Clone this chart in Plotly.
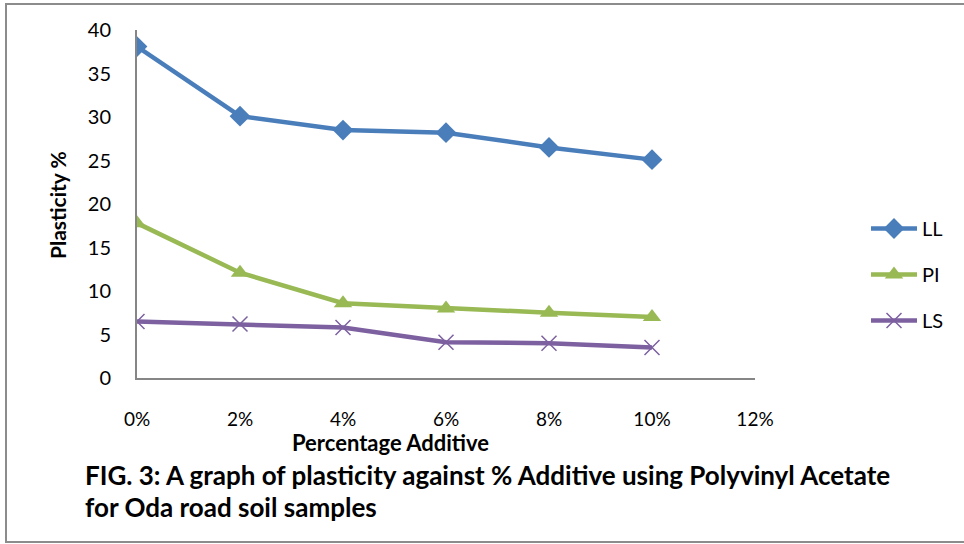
import plotly.graph_objects as go

additive = [0.00, 0.02, 0.04, 0.06, 0.08, 0.10]
ll = [38.1, 30.1, 28.5, 28.2, 26.5, 25.1]
pi = [17.8, 12.1, 8.6, 8.0, 7.5, 7.0]
ls = [6.5, 6.2, 5.8, 4.1, 4.0, 3.5]
x_ticks = [0.00, 0.02, 0.04, 0.06, 0.08, 0.10, 0.12]
x_tick_labels = ["0%", "2%", "4%", "6%", "8%", "10%", "12%"]
y_ticks = [0, 5, 10, 15, 20, 25, 30, 35, 40]

FONT = "Lato"

# plot area in pixels
L, R, T, B = 137, 755, 30, 378
W, H = 964, 544
pw, ph = R - L, B - T


def px(x):
    return (x - L) / pw


def py(y):
    return (B - y) / ph


fig = go.Figure()
fig.add_trace(go.Scatter(x=additive, y=ll, name="LL", mode="lines+markers",
                         line=dict(color="#4a7ebb", width=4.5),
                         marker=dict(symbol="diamond", size=16, color="#4a7ebb"),
                         legendgroup="a"))
fig.add_trace(go.Scatter(x=additive, y=pi, name="PI", mode="lines+markers",
                         line=dict(color="#98b954", width=4.5),
                         marker=dict(symbol="triangle-up", size=16, color="#98b954"),
                         legendgroup="b"))
fig.add_trace(go.Scatter(x=additive, y=ls, name="LS", mode="lines+markers",
                         line=dict(color="#7d60a0", width=4.5),
                         marker=dict(symbol="x-thin", size=15,
                                     line=dict(color="#7d60a0", width=1.5)),
                         legendgroup="c"))

fig.update_layout(
    width=W, height=H,
    margin=dict(l=L, r=W - R, t=T, b=H - B),
    paper_bgcolor="white", plot_bgcolor="white",
    font=dict(family=FONT, size=20, color="black"),
    showlegend=True,
    legend=dict(x=px(866), y=py(209), xanchor="left", yanchor="top",
                font=dict(size=20, family=FONT), tracegroupgap=17,
                itemwidth=46, bgcolor="rgba(0,0,0,0)"),
    xaxis=dict(range=[0, 0.12], tickvals=x_ticks, ticktext=x_tick_labels,
               showgrid=False, zeroline=False, showline=True,
               linecolor="#868686", linewidth=2, ticks="",
               ticklabelstandoff=23, tickfont=dict(size=19)),
    yaxis=dict(range=[0, 40], tickvals=y_ticks, showgrid=False, zeroline=False,
               showline=True, linecolor="#868686", linewidth=2, ticks="",
               ticklabelstandoff=20, tickfont=dict(size=20)),
    shapes=[dict(type="rect", xref="paper", yref="paper",
                 x0=px(6), x1=px(990), y0=py(542), y1=py(4),
                 line=dict(color="#8c8c8c", width=2), fillcolor="rgba(0,0,0,0)",
                 layer="below")],
    annotations=[
        dict(text="<b>Plasticity %</b>", textangle=-90, xref="paper", yref="paper",
             x=px(57), y=py(205), xanchor="center", yanchor="middle",
             showarrow=False, font=dict(size=21)),
        dict(text="<b>Percentage Additive</b>", xref="paper", yref="paper",
             x=px(390), y=py(442), xanchor="center", yanchor="middle",
             showarrow=False, font=dict(size=22)),
        dict(text="<b>FIG. 3: A graph of plasticity against % Additive using Polyvinyl Acetate</b>",
             xref="paper", yref="paper", x=px(83), y=py(475), xanchor="left",
             yanchor="middle", showarrow=False, font=dict(size=26)),
        dict(text="<b>for Oda road soil samples</b>",
             xref="paper", yref="paper", x=px(83), y=py(507), xanchor="left",
             yanchor="middle", showarrow=False, font=dict(size=26)),
    ],
)

fig.write_html("out.html")
